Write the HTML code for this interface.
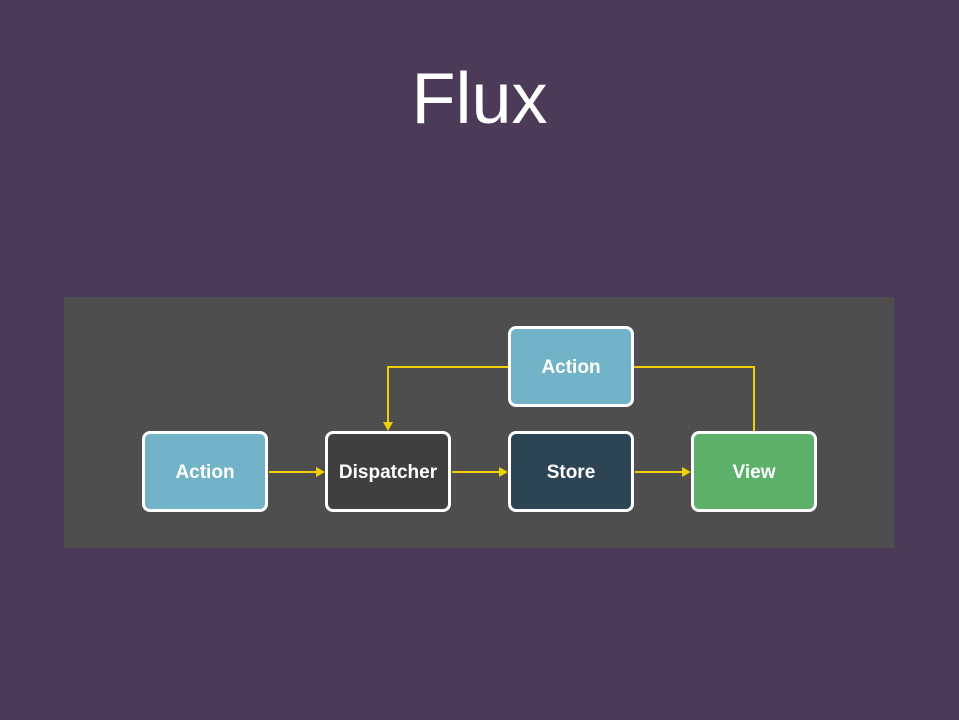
<!DOCTYPE html>
<html><head><style>
body{margin:0;width:959px;height:720px;background:#4b3b58;position:relative;overflow:hidden;font-family:"Liberation Sans",sans-serif}
.t{position:absolute;left:0;width:959px;top:54px;text-align:center;color:#fff;font-size:72px;line-height:90px}
.p{position:absolute;left:64px;top:297px;width:830px;height:251px;background:#4e4e4e}
.b{position:absolute;width:120px;height:72px;padding-top:3px;border:3px solid #fff;border-radius:8px;color:#fff;font-weight:bold;font-size:19px;display:flex;align-items:center;justify-content:center;box-sizing:content-box}
</style></head><body>
<div class="t">Flux</div>
<div class="p"></div>
<svg style="position:absolute;left:0;top:0" width="959" height="720">
<g stroke="#f0d000" stroke-width="2" fill="none">
<polyline points="508,367 388,367 388,424"/>
<polyline points="634,367 754,367 754,431"/>
<line x1="269" y1="472" x2="318" y2="472"/>
<line x1="452" y1="472" x2="501" y2="472"/>
<line x1="635" y1="472" x2="684" y2="472"/>
</g>
<g fill="#f0d000">
<polygon points="383,422 393,422 388,431"/>
<polygon points="316,467 325,472 316,477"/>
<polygon points="499,467 508,472 499,477"/>
<polygon points="682,467 691,472 682,477"/>
</g>
</svg>
<div class="b" style="left:142px;top:431px;background:#72b3c8">Action</div>
<div class="b" style="left:325px;top:431px;background:#3f3f3f">Dispatcher</div>
<div class="b" style="left:508px;top:431px;background:#2c4454">Store</div>
<div class="b" style="left:691px;top:431px;background:#5db06a">View</div>
<div class="b" style="left:508px;top:326px;background:#72b3c8">Action</div>
</body></html>
